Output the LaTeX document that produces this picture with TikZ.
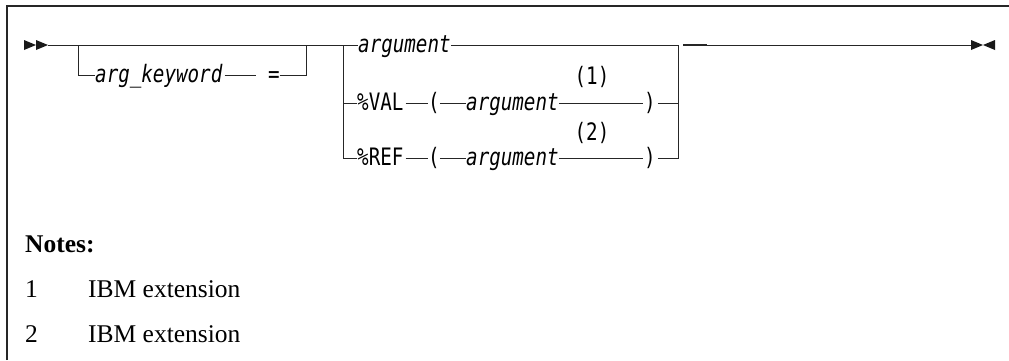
\documentclass[tikz,border=0pt]{standalone}
\usepackage{fontspec}
\newfontfamily\railfont[FakeStretch=0.8, ItalicFont={DejaVu Sans Mono Oblique}]{DejaVu Sans Mono}
\newfontfamily\notefont{Liberation Serif}
\begin{document}
\begin{tikzpicture}[x=1pt,y=-1pt,
  rail/.style={line width=0.9pt, black!85},
  tok/.style={inner sep=0pt, text height=14pt, text depth=0pt, anchor=west, font=\railfont\fontsize{24}{28}\selectfont},
  var/.style={tok, font=\railfont\itshape\fontsize{24}{28}\selectfont},
  note/.style={anchor=base west, inner sep=0pt, font=\notefont\fontsize{25.5}{30}\selectfont}]
  \useasboundingbox (0,0) rectangle (1009,360);
  % frame
  \draw[line width=1.2pt, black!85] (7,360) -- (7,6) -- (1009,6);
  % start and end marks
  \fill[black!90] (24,40) -- (36,45) -- (24,50) -- cycle (36,40) -- (48,45) -- (36,50) -- cycle;
  \fill[black!90] (971,40) -- (983,45) -- (971,50) -- cycle (995,40) -- (983,45) -- (995,50) -- cycle;
  \coordinate (start) at (48,45);
  \coordinate (stop) at (971,45);
  \coordinate (kl) at (78,45);
  \coordinate (kr) at (306,45);
  \coordinate (cl) at (343,45);
  \coordinate (cr) at (678,45);
  \coordinate (bk1) at (683,45);
  \coordinate (bk2) at (707,45);
  % optional keyword
  \node[var] (kw) at (95,75) {arg\_keyword};
  \node[tok, anchor=center] (eq) at (268,75) {\ =\ };
  % choices
  \node[var] (arg1) at (358,45) {argument};
  \node[tok] (val) at (357,103) {\%VAL};
  \node[tok] (lpa) at (428,103) {(};
  \node[var] (arg2) at (466,103) {argument};
  \node[tok] (rpa) at (644,103) {)};
  \node[tok, anchor=center] (n1) at (592,77) {(1)};
  \node[tok] (ref) at (357,158) {\%REF};
  \node[tok] (lpb) at (428,158) {(};
  \node[var] (arg3) at (466,158) {argument};
  \node[tok] (rpb) at (644,158) {)};
  \node[tok, anchor=center] (n2) at (592,133) {(2)};
  % rails
  \draw[rail] (start) -- (arg1);
  \draw[rail] (kl) |- (kw);
  \draw[rail, shorten <=2pt] (kw) -- (eq);
  \draw[rail] (eq) -| (kr);
  \draw[rail] (arg1) -- (cr);
  \draw[rail] (bk2) -- (stop);
  \draw[line width=2.4pt, black!85] (bk1) -- (bk2);
  \draw[rail] (cl) |- (val);
  \draw[rail] (cl) |- (ref);
  \draw[rail, shorten <=2pt] (val) -- (lpa);
  \draw[rail] (lpa) -- (arg2);
  \draw[rail, shorten >=1pt] (arg2) -- (rpa);
  \draw[rail, shorten <=2pt] (rpa) -| (cr);
  \draw[rail, shorten <=2pt] (ref) -- (lpb);
  \draw[rail] (lpb) -- (arg3);
  \draw[rail, shorten >=1pt] (arg3) -- (rpb);
  \draw[rail, shorten <=2pt] (rpb) -| (cr);
  % notes
  \node[note, font=\notefont\bfseries\fontsize{25.5}{30}\selectfont] (notes) at (25,252) {Notes:};
  \node[note] (k1) at (25,297) {1};
  \node[note] (t1) at (88,297) {IBM extension};
  \node[note] (k2) at (25,342) {2};
  \node[note] (t2) at (88,342) {IBM extension};
\end{tikzpicture}
\end{document}
